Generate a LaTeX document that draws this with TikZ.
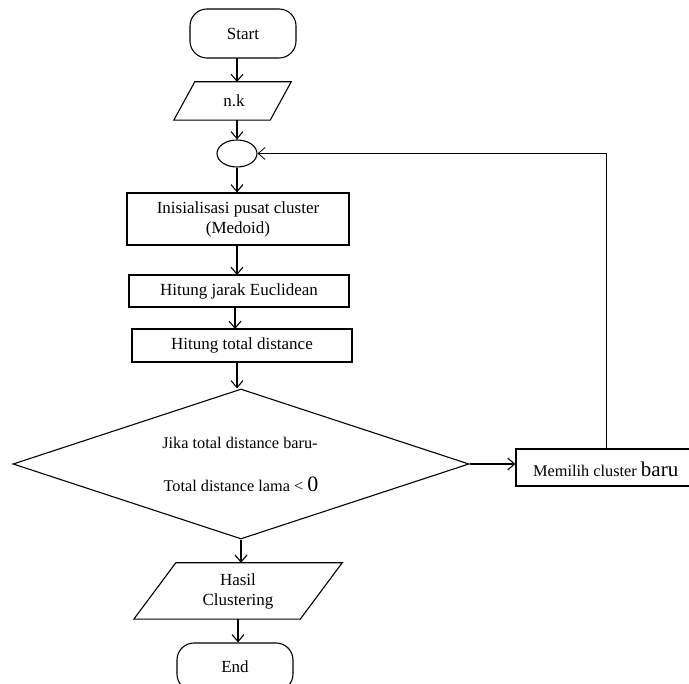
\documentclass[tikz,border=0pt]{standalone}
\usepackage{fontspec}
\setmainfont{Liberation Serif}
\usetikzlibrary{shapes.geometric,arrows.meta,calc}
\begin{document}
\begin{tikzpicture}[x=1pt,y=-1pt,
  every node/.style={font=\fontsize{17}{20}\selectfont},
  dfont/.style={font=\fontsize{16.3}{19}\selectfont},
  shp/.style={draw,line width=1.1pt},
  arr/.style={line width=1.1pt,-{Straight Barb[length=7pt,width=12pt,line width=1.1pt]}},
  thin/.style={line width=0.8pt},
  boxn/.style={shp,rectangle,inner sep=0pt,align=center},
  term/.style={shp,rectangle,rounded corners=17pt,inner sep=0pt},
  ghost/.style={rectangle,inner sep=0pt,align=center}]
\useasboundingbox (0,0) rectangle (689,684);
\clip (0,0) rectangle (689,684);

% Start
\node[term,minimum width=106pt,minimum height=49pt] (start) at (243,33.5) {Start};
% n.k parallelogram
\node[ghost,minimum width=117pt,minimum height=38pt] (nk) at (232.5,101) {};
\draw[shp] ([xshift=21pt]nk.north west) -- (nk.north east) -- ([xshift=-21pt]nk.south east) -- (nk.south west) -- cycle;
\node (nkt) at (234,101) {n.k};
% connector circle
\node[shp,ellipse,minimum width=40pt,minimum height=27pt,inner sep=0pt] (circ) at (237,153.5) {};
% boxes
\node[boxn,minimum width=222pt,minimum height=52pt] (b1) at (238,219) {Inisialisasi pusat cluster\\(Medoid)};
\node[boxn,minimum width=220pt,minimum height=32pt] (b2) at (239,291) {Hitung jarak Euclidean};
\node[boxn,minimum width=220pt,minimum height=33pt] (b3) at (242,345.5) {Hitung total distance};
% decision
\node[shp,diamond,aspect=3.04,minimum width=456pt,minimum height=150pt,inner sep=0pt] (dia) at (241,464) {};
\node[dfont] (dt1) at (240,443) {Jika total distance baru-};
\node[dfont] (dt2) at (241,484) {Total distance lama < {\fontsize{22}{22}\selectfont 0}};
% Memilih cluster baru
\node[boxn,minimum width=184pt,minimum height=37pt] (mb) at (608,467.5) {};
\node[dfont,anchor=west,inner sep=0pt] (mbt) at (533,469) {Memilih cluster {\fontsize{21}{21}\selectfont baru}};
% output
\node[ghost,minimum width=208pt,minimum height=56pt] (hs) at (238,591) {Hasil\\Clustering};
\draw[shp] ([xshift=42pt]hs.north west) -- (hs.north east) -- ([xshift=-42pt]hs.south east) -- (hs.south west) -- cycle;
% End
\node[term,minimum width=116pt,minimum height=48pt] (end) at (235,667) {End};

% connectors
\draw[arr] (237,58) -- (237,82);
\draw[arr] (237,120) -- (circ.north);
\draw[arr] (circ.south) -- (circ.south |- b1.north);
\draw[arr] (237,245) -- (237,275);
\draw[arr] (235,307) -- (235,329);
\draw[arr] (237,362) -- (dia.north -| 237,0);
\draw[arr] (dia.east) -- (dia.east -| mb.west);
\coordinate (corner) at (606,153.5);
\draw[thin] (mb.north -| corner) -- (corner);
\draw[thin,-{Straight Barb[length=7pt,width=12pt,line width=0.8pt]}] (corner) -- (circ.east);
\draw[arr] (dia.south) -- (dia.south |- hs.north);
\draw[arr] (hs.south) -- (hs.south |- end.north);
\end{tikzpicture}
\end{document}
